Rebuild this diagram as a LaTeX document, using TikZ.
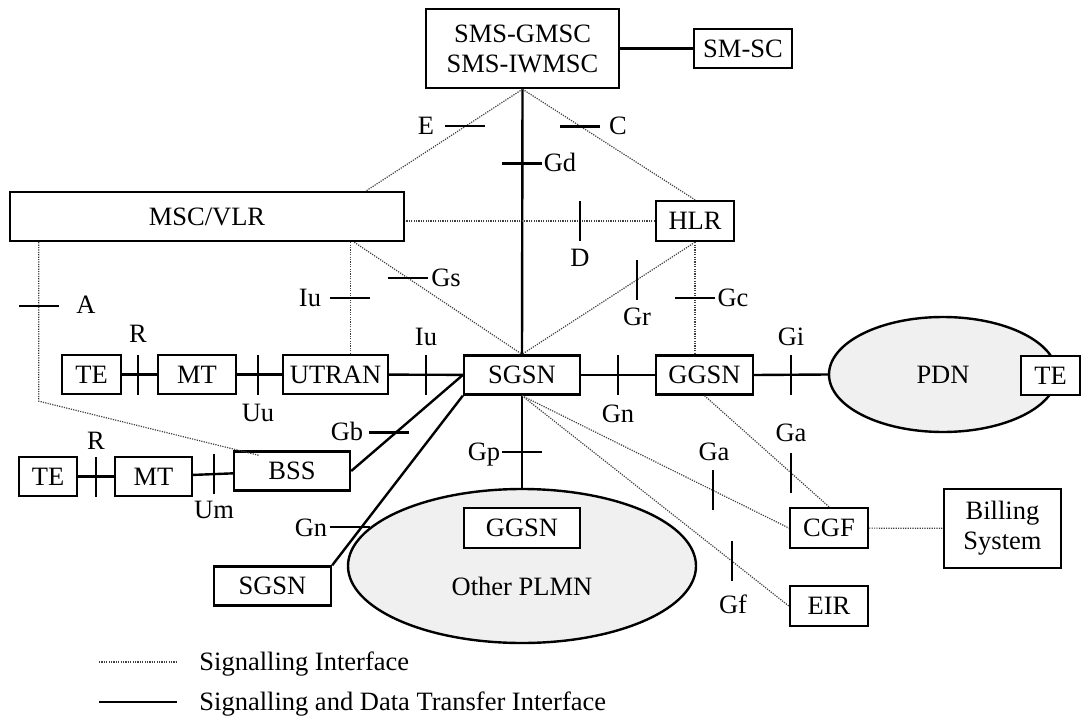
\documentclass[tikz,border=0pt]{standalone}
\usepackage{fontspec}
\setmainfont{Liberation Serif}
\usetikzlibrary{shapes.geometric}

\begin{document}
\begin{tikzpicture}[x=0.5pt,y=-0.5pt,
        font=\fontsize{13.25}{15}\selectfont,
        box/.style={draw,fill=white,line width=1.2pt,inner sep=0pt,minimum height=19.5pt},
        net/.style={draw,ellipse,fill=black!6,line width=1.2pt,inner sep=0pt},
        data/.style={line width=1.2pt},
        sig/.style={line width=0.6pt,black!75,dash pattern=on 0.6pt off 0.6pt},
        tick/.style={line width=1.2pt},
        lab/.style={inner sep=0pt,text height=8.8pt,text depth=0pt}]

        \useasboundingbox (0,0) rectangle (1081,717);

        % the two networks (drawn first, boxes sit on top)
        \node[net,minimum width=114pt,minimum height=57.5pt] (pdn) at (943,374.5) {PDN};
        \node[net,minimum width=174pt,minimum height=77pt] (plmn) at (522,566) {};

        % the network elements
        \node[box,minimum width=96.5pt,minimum height=39.5pt,align=center] (smsc) at (522.5,48.5) {SMS-GMSC\\SMS-IWMSC};
        \node[box,minimum width=49pt] (smssc) at (743,48.5) {SM-SC};
        \node[box,minimum width=197pt,minimum height=24.5pt] (msc) at (207,216.5) {MSC/VLR};
        \node[box,minimum width=39pt,minimum height=20pt] (hlr) at (695,221) {HLR};
        \node[box,minimum width=29.5pt] (te) at (91.5,374.5) {TE};
        \node[box,minimum width=39pt] (mt) at (197,374.5) {MT};
        \node[box,minimum width=52.5pt] (utran) at (335.5,374.5) {UTRAN};
        \node[box,minimum width=58pt] (sgsn) at (522,375) {SGSN};
        \node[box,minimum width=48.5pt] (ggsn) at (704.5,375) {GGSN};
        \node[box,minimum width=29.5pt] (pdnte) at (1050.5,375.5) {TE};
        \node[box,minimum width=29pt] (tee) at (48,476.5) {TE};
        \node[box,minimum width=38.5pt] (mtt) at (153.5,476.5) {MT};
        \node[box,minimum width=58pt] (bss) at (292,471) {BSS};
        \node[box,minimum width=58.5pt] (sgsnn) at (272.5,586) {SGSN};
        \node[box,minimum width=58pt,minimum height=20pt] (ggsnn) at (522,528) {GGSN};
        \node[lab] (plmntext) at (522,587) {Other PLMN};
        \node[box,minimum width=39pt,minimum height=20pt] (cgf) at (829,528) {CGF};
        \node[box,minimum width=58.5pt,minimum height=39.5pt,align=center] (bill) at (1002.5,528.5) {Billing\\System};
        \node[box,minimum width=39pt,minimum height=20pt] (eir) at (829,606) {EIR};

        % signalling and data transfer interfaces
        \draw[data] (smsc) -- (smssc);
        \draw[data] (smsc.south) -- coordinate[pos=0.28] (tGd) (sgsn.north);
        \draw[data] (te) -- coordinate[pos=0.46] (tR) (mt);
        \draw[data] (mt) -- coordinate[pos=0.47] (tUu) (utran);
        \draw[data] (utran) -- coordinate[pos=0.5] (tIuu) (sgsn);
        \draw[data] (sgsn) -- coordinate[pos=0.5] (tGn) (ggsn);
        \draw[data] (ggsn.east) -- coordinate[pos=0.5] (tGi) (pdn.west);
        \draw[data] (tee) -- coordinate[pos=0.5] (tRR) (mtt);
        \draw[data] (mtt) -- coordinate[pos=0.52] (tUm) (bss);
        \draw[data] (bss.east) -- coordinate[pos=0.4] (tGb) (sgsn.west);
        \draw[data] (sgsnn.north east) -- coordinate[pos=0.225] (tGnn) (sgsn.south west);
        \draw[data] (sgsn) -- coordinate[pos=0.61] (tGp) (plmn);

        % signalling interfaces
        \draw[sig] (smsc.south) -- coordinate[pos=0.365] (tE) ([xshift=-19.5pt]msc.north east);
        \draw[sig] (smsc.south) -- coordinate[pos=0.336] (tC) (hlr.north);
        \draw[sig] (hlr.west) -- coordinate[pos=0.3] (tD) (msc.east |- hlr.west);
        \draw[sig] ([xshift=-25.5pt]msc.south east) -- coordinate[pos=0.32] (tGs) (sgsn.north);
        \draw[sig] ([xshift=-27.5pt]msc.south east) -- coordinate[pos=0.5] (tIu)
              ([xshift=-27.5pt]msc.south east |- utran.north);
        \draw[sig] ([xshift=15pt]msc.south west) -- coordinate[pos=0.4] (tA) ++(0,159)
              -- ([xshift=13pt,yshift=-2.5pt]bss.north west);
        \draw[sig] (hlr.south) -- coordinate[pos=0.5] (tGc) (hlr.south |- ggsn.north);
        \draw[sig] (hlr.south) -- coordinate[pos=0.335] (tGr) (sgsn.north);
        \draw[sig] (sgsn.south) -- coordinate[pos=0.716] (tGa) (cgf.west);
        \draw[sig] (ggsn.south) -- coordinate[pos=0.695] (tGaa) (cgf.north);
        \draw[sig] (sgsn.south) -- coordinate[pos=0.787] (tGf) (eir.west);
        \draw[sig] (cgf) -- (bill);

        % the reference point marks
        \foreach \t in {tE,tC,tGd,tGs,tIu,tA,tGc,tGp}
                \draw[tick] ([xshift=-10pt]\t) -- ([xshift=10pt]\t);
        % these two sit a bit to the left of their line
        \foreach \t/\l/\r in {tGb/13.5/6.5, tGnn/16/4}
                \draw[tick] ([xshift=-\l pt]\t) -- ([xshift=\r pt]\t);
        \foreach \t in {tD,tR,tUu,tIuu,tGn,tGi,tGr,tRR,tUm,tGa,tGaa,tGf}
                \draw[tick] ([yshift=-10pt]\t) -- ([yshift=10pt]\t);

        % the reference point names
        \foreach \n/\x/\y/\txt in {
            lE/426/126/E, lC/618/126/C, lGd/560/163/Gd, lGs/446/278/Gs,
            lIu/310/298/Iu, lA/86/305/A, lD/580/258/D, lGr/637/317/Gr,
            lGc/733/298/Gc, lR/138/334/R, lUu/258/413/Uu, lIuu/426/337/Iu,
            lGn/618/414/Gn, lGi/791/337/Gi, lRR/96/441/R, lUm/214/510/Um,
            lGb/347/432/Gb, lGnn/311/528/Gn, lGp/484/452/Gp, lGa/714/452/Ga,
            lGaa/791/433/Ga, lGf/733/605/Gf}
                \node[lab] (\n) at (\x,\y) {\txt};

        % legend
        \node[lab,anchor=west] (legsig) at (199,662) {Signalling Interface};
        \node[lab,anchor=west] (legdata) at (199,702) {Signalling and Data Transfer Interface};
        \draw[sig] ([xshift=-50pt]legsig.west) -- ([xshift=-11pt]legsig.west);
        \draw[data] ([xshift=-50pt]legdata.west) -- ([xshift=-11pt]legdata.west);
\end{tikzpicture}
\end{document}
